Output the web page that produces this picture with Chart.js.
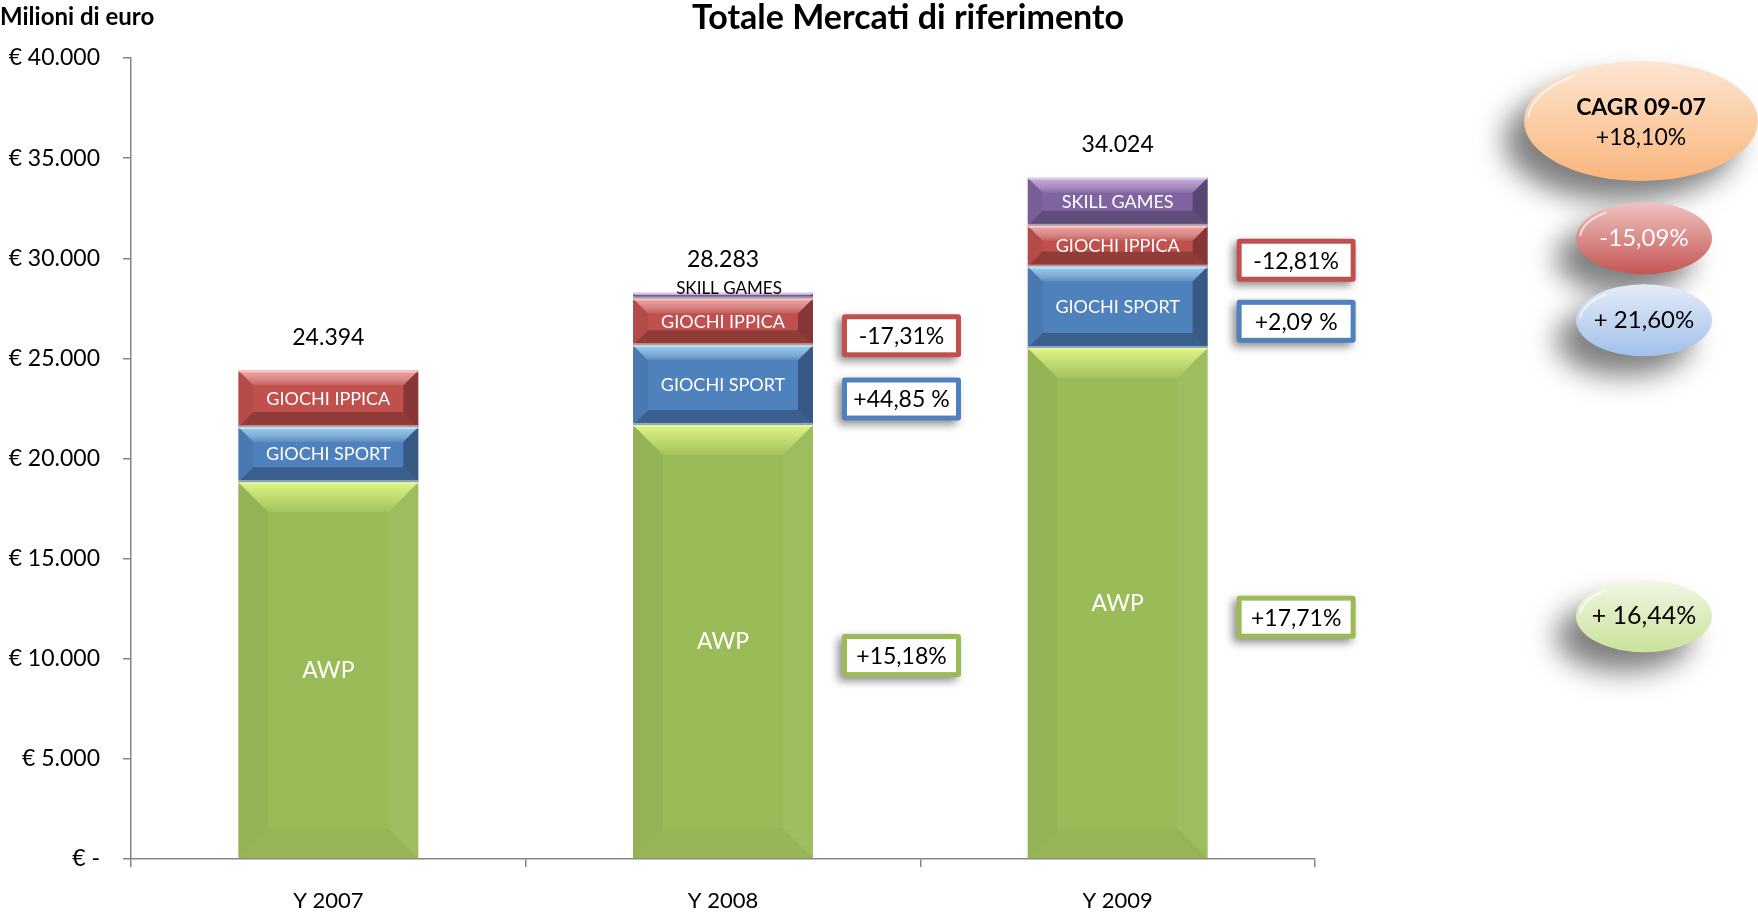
<!DOCTYPE html>
<html>
<head>
<meta charset="utf-8">
<title>Totale Mercati di riferimento</title>
<script src="https://cdn.jsdelivr.net/npm/chart.js@4.4.0/dist/chart.umd.min.js"></script>
<style>
  html, body { margin: 0; padding: 0; background: #fff; }
  #wrap { width: 1758px; height: 915px; }
</style>
</head>
<body>
<div id="wrap"><canvas id="chart" width="1758" height="915"></canvas></div>
<script>
// data (milioni di euro)
const years = ["Y 2007", "Y 2008", "Y 2009"];
const awp = [18820, 21677, 25516];
const giochiSport = [2750, 3983, 4066];
const giochiIppica = [2824, 2335, 2036];
const skillGames = [0, 288, 2406];

const yMax = 40000;
const yStep = 5000;

// growth labels next to the bars (vs previous year)
const growthAwp = ["", "+15,18%", "+17,71%"];
const growthSport = ["", "+44,85 %", "+2,09 %"];
const growthIppica = ["", "-17,31%", "-12,81%"];

// CAGR bubbles on the right
const cagrTitle = "CAGR 09-07";
const cagrTotal = "+18,10%";
const cagrAwp = "+ 16,44%";
const cagrSport = "+ 21,60%";
const cagrIppica = "-15,09%";

const FONT = "Lato, 'Open Sans', sans-serif";
const colors = { awp: "#9BBB59", sport: "#4F81BD", ippica: "#C0504D", skill: "#8064A2" };

function euro(v) {
  if (v === 0) return "€ -";
  return "€ " + v.toLocaleString("de-DE");
}

// helpers
function poly(ctx, pts, fill) {
  ctx.beginPath();
  ctx.moveTo(pts[0][0], pts[0][1]);
  for (let i = 1; i < pts.length; i++) ctx.lineTo(pts[i][0], pts[i][1]);
  ctx.closePath();
  ctx.fillStyle = fill;
  ctx.fill();
}

function barBox(chart, di, i) {
  const p = chart.getDatasetMeta(di).data[i].getProps(["x", "y", "base", "width"], true);
  return {
    L: p.x - p.width / 2, R: p.x + p.width / 2,
    T: Math.min(p.y, p.base), B: Math.max(p.y, p.base), x: p.x
  };
}

// bevel look on each bar segment
const bevelPlugin = {
  id: "bevel",
  afterDatasetsDraw(chart) {
    const ctx = chart.ctx;
    ctx.save();
    chart.data.datasets.forEach((ds, di) => {
      const bv = ds.bevel;
      ds.data.forEach((v, i) => {
        if (!v) return;
        const { L, R, T, B } = barBox(chart, di, i);
        const b = Math.min(bv.size, (B - T) / 2);
        const gTop = ctx.createLinearGradient(0, T, 0, T + b);
        gTop.addColorStop(0, bv.top);
        gTop.addColorStop(1, bv.topEnd);
        poly(ctx, [[L, T], [R, T], [R - b, T + b], [L + b, T + b]], gTop);
        poly(ctx, [[L, B], [R, B], [R - b, B - b], [L + b, B - b]], bv.bottom);
        poly(ctx, [[L, T], [L + b, T + b], [L + b, B - b], [L, B]], bv.left);
        poly(ctx, [[R, T], [R - b, T + b], [R - b, B - b], [R, B]], bv.right);
        ctx.fillStyle = bv.edge;
        ctx.fillRect(L, T, R - L, 2);
        ctx.fillStyle = bv.edgeBottom;
        ctx.fillRect(L, B - 2, R - L, 2);
      });
    });
    ctx.restore();
  }
};

// labels inside bars, totals, growth boxes, bubbles, titles
const labelPlugin = {
  id: "labels",
  afterDraw(chart) {
    const ctx = chart.ctx;
    const area = chart.chartArea;
    const yScale = chart.scales.y;
    ctx.save();
    ctx.textAlign = "center";
    ctx.textBaseline = "middle";

    // segment names
    chart.data.datasets.forEach((ds, di) => {
      ds.data.forEach((v, i) => {
        if (!v) return;
        const { T, B, x } = barBox(chart, di, i);
        if (B - T < 20) {
          ctx.fillStyle = "#000";
          ctx.font = "17px " + FONT;
          ctx.fillText(ds.label, x + 6, T - 4);
        } else {
          ctx.fillStyle = "#fff";
          ctx.font = (ds.label === "AWP" ? "23px " : "18px ") + FONT;
          ctx.fillText(ds.label, x, (T + B) / 2);
        }
      });
    });

    // totals above the bars
    ctx.fillStyle = "#000";
    ctx.font = "23px " + FONT;
    years.forEach((y, i) => {
      const tot = awp[i] + giochiSport[i] + giochiIppica[i] + skillGames[i];
      const { x } = barBox(chart, 0, i);
      ctx.fillText(tot.toLocaleString("de-DE"), x, yScale.getPixelForValue(tot) - 33);
    });

    // growth boxes
    const growth = [[0, growthAwp, colors.awp], [1, growthSport, colors.sport], [2, growthIppica, colors.ippica]];
    growth.forEach(([di, labels, col]) => {
      labels.forEach((txt, i) => {
        if (!txt) return;
        const { R, T, B } = barBox(chart, di, i);
        const w = 119, h = 43;
        const bx = R + 29, by = (T + B) / 2 + 14 - h / 2;
        ctx.save();
        ctx.shadowColor = "rgba(0,0,0,0.45)";
        ctx.shadowBlur = 8;
        ctx.shadowOffsetX = -4;
        ctx.shadowOffsetY = 4;
        ctx.fillStyle = col;
        ctx.beginPath();
        ctx.roundRect(bx, by, w, h, 3);
        ctx.fill();
        ctx.restore();
        ctx.fillStyle = "#fff";
        ctx.fillRect(bx + 5, by + 5, w - 10, h - 10);
        ctx.fillStyle = "#000";
        ctx.font = "23px " + FONT;
        ctx.fillText(txt, bx + w / 2, by + h / 2 + 1);
      });
    });

    // bubbles
    function bubble(cx, cy, rx, ry, c1, c2, lines) {
      ctx.save();
      ctx.shadowColor = "rgba(0,0,0,0.5)";
      ctx.shadowBlur = 28;
      ctx.shadowOffsetX = -20;
      ctx.shadowOffsetY = 20;
      const g = ctx.createLinearGradient(0, cy - ry, 0, cy + ry);
      g.addColorStop(0, c1);
      g.addColorStop(1, c2);
      ctx.fillStyle = g;
      ctx.beginPath();
      ctx.ellipse(cx, cy, rx, ry, 0, 0, Math.PI * 2);
      ctx.fill();
      ctx.restore();
      // small gloss on the upper left
      ctx.save();
      ctx.strokeStyle = "rgba(255,255,255,0.7)";
      ctx.lineWidth = 2;
      ctx.beginPath();
      ctx.ellipse(cx, cy, rx - 4, ry - 4, 0, Math.PI * 1.02, Math.PI * 1.3);
      ctx.stroke();
      ctx.restore();
      lines.forEach(l => {
        ctx.fillStyle = l.color;
        ctx.font = l.font;
        ctx.fillText(l.text, cx, cy + l.dy);
      });
    }
    const bx = area.right + 329;
    const seg = (di) => { const b = barBox(chart, di, 2); return (b.T + b.B) / 2; };
    bubble(bx - 3, area.top + 63, 117, 60, "#FDE6D2", "#F9B57C", [
      { text: cagrTitle, font: "bold 23px " + FONT, color: "#000", dy: -13 },
      { text: cagrTotal, font: "23px " + FONT, color: "#000", dy: 17 }
    ]);
    bubble(bx, seg(2) - 8, 68, 36, "#EFC3C2", "#C45653", [
      { text: cagrIppica, font: "24px " + FONT, color: "#fff", dy: 0 }
    ]);
    bubble(bx, seg(1) + 13, 68, 36, "#E3EBF8", "#A3C0EA", [
      { text: cagrSport, font: "24px " + FONT, color: "#000", dy: 0 }
    ]);
    bubble(bx, seg(0) + 13, 68, 36, "#F1F7E4", "#C9E29A", [
      { text: cagrAwp, font: "25px " + FONT, color: "#000", dy: 0 }
    ]);

    // titles
    ctx.fillStyle = "#000";
    ctx.font = "bold 34px " + FONT;
    ctx.fillText("Totale Mercati di riferimento", 908, 18);
    ctx.textAlign = "left";
    ctx.font = "bold 24px " + FONT;
    ctx.fillText("Milioni di euro", 0, 17);
    ctx.restore();
  }
};

const ctx = document.getElementById("chart").getContext("2d");

function mkSet(label, data, color, bevel) {
  return {
    label: label,
    data: data,
    backgroundColor: color,
    borderWidth: 0,
    categoryPercentage: 1,
    barPercentage: 0.456,
    bevel: bevel
  };
}

const softBevel = {
  size: 30, top: "rgba(235,255,140,0.85)", topEnd: "rgba(235,255,140,0.1)",
  bottom: "rgba(0,0,0,0.03)", left: "rgba(0,0,0,0.04)", right: "rgba(255,255,255,0.04)",
  edge: "rgba(230,255,170,0.6)", edgeBottom: "rgba(0,0,0,0)"
};
function hardBevel(light) {
  return {
    size: 15, top: light, topEnd: "rgba(255,255,255,0.08)",
    bottom: "rgba(0,0,0,0.25)", left: "rgba(0,0,0,0.06)", right: "rgba(0,0,0,0.3)",
    edge: "rgba(255,255,255,0.45)", edgeBottom: "rgba(255,255,255,0.45)"
  };
}

new Chart(ctx, {
  type: "bar",
  data: {
    labels: years,
    datasets: [
      mkSet("AWP", awp, colors.awp, softBevel),
      mkSet("GIOCHI SPORT", giochiSport, colors.sport, hardBevel("rgba(150,225,255,0.8)")),
      mkSet("GIOCHI IPPICA", giochiIppica, colors.ippica, hardBevel("rgba(255,175,175,0.8)")),
      mkSet("SKILL GAMES", skillGames, colors.skill, hardBevel("rgba(235,195,255,0.7)"))
    ]
  },
  options: {
    responsive: false,
    animation: false,
    layout: { padding: { top: 58, right: 443, bottom: 0, left: 0 } },
    plugins: {
      legend: { display: false },
      tooltip: { enabled: false }
    },
    scales: {
      x: {
        stacked: true,
        afterFit: s => { s.height = 56; },
        grid: { display: true, drawOnChartArea: false, offset: true, tickLength: 8, color: "#868686", lineWidth: 1.5 },
        border: { color: "#868686", width: 1.5 },
        ticks: { color: "#000", padding: 21, font: { family: FONT, size: 22 } }
      },
      y: {
        stacked: true,
        min: 0,
        max: yMax,
        afterFit: s => { s.width = 131; },
        grid: { display: true, drawOnChartArea: false, tickLength: 8, color: "#868686", lineWidth: 1.5 },
        border: { color: "#868686", width: 1.5 },
        ticks: {
          stepSize: yStep,
          color: "#000",
          padding: 23,
          font: { family: FONT, size: 23 },
          callback: v => euro(v)
        }
      }
    }
  },
  plugins: [bevelPlugin, labelPlugin]
});
</script>
</body>
</html>
